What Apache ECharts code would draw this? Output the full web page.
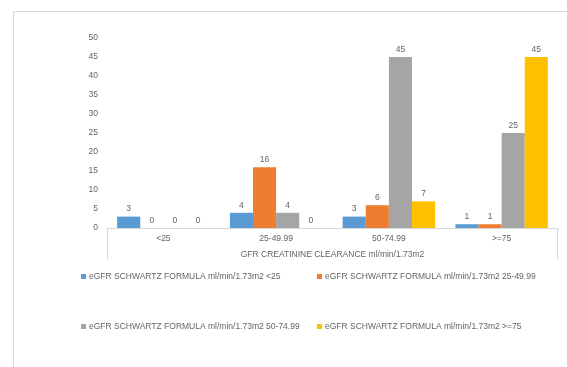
<!DOCTYPE html>
<html>
<head>
<meta charset="utf-8">
<script src="https://cdn.jsdelivr.net/npm/echarts@6/dist/echarts.min.js"></script>
<style>
  html, body { margin: 0; padding: 0; background: #ffffff; }
  #chart { width: 567px; height: 367px; }
</style>
</head>
<body>
<div id="chart"></div>
<script>
// GFR creatinine clearance bands on the category axis
const categories = ['<25', '25-49.99', '50-74.99', '>=75'];

// eGFR Schwartz formula bands, one series each
const seriesNames = [
  'eGFR SCHWARTZ FORMULA ml/min/1.73m2 <25',
  'eGFR SCHWARTZ FORMULA ml/min/1.73m2 25-49.99',
  'eGFR SCHWARTZ FORMULA ml/min/1.73m2 50-74.99',
  'eGFR SCHWARTZ FORMULA ml/min/1.73m2 >=75'
];
const schwartzBelow25 = [3, 4, 3, 1];
const schwartz25to49 = [0, 16, 6, 1];
const schwartz50to74 = [0, 4, 45, 25];
const schwartzAbove75 = [0, 0, 7, 45];

const seriesValues = [schwartzBelow25, schwartz25to49, schwartz50to74, schwartzAbove75];
const seriesColors = ['#5b9bd5', '#ed7d31', '#a5a5a5', '#ffc000'];

const yTicks = { min: 0, max: 50, interval: 5 };

const FONT = '"Liberation Sans", Arial, sans-serif';
const TEXT = '#646464';
const FRAME = '#d9d9d9';

// plot area
const G = { left: 107, right: 9, top: 38, bottom: 139 };
const W = 567, H = 367;
const axisY = H - G.bottom;
const axisX0 = G.left, axisX1 = W - G.right;

const chart = echarts.init(document.getElementById('chart'), null, { renderer: 'canvas' });

const legendPos = [
  { left: 81, top: 272 },
  { left: 317, top: 272 },
  { left: 81, top: 322 },
  { left: 317, top: 322 }
];

chart.setOption({
  backgroundColor: '#ffffff',
  animation: false,
  textStyle: { fontFamily: FONT },
  grid: { left: G.left, right: G.right, top: G.top, bottom: G.bottom, containLabel: false },
  legend: seriesNames.map((n, i) => ({
    data: [n],
    left: legendPos[i].left,
    top: legendPos[i].top,
    orient: 'horizontal',
    icon: 'rect',
    itemWidth: 5,
    itemHeight: 5,
    itemGap: 0,
    padding: 0,
    selectedMode: false,
    textStyle: { color: TEXT, fontSize: 8.5, fontFamily: FONT, padding: [0, 0, 0, -2] }
  })),
  xAxis: {
    type: 'category',
    data: categories,
    name: 'GFR CREATININE CLEARANCE ml/min/1.73m2',
    nameLocation: 'middle',
    nameGap: 22,
    nameTextStyle: { color: TEXT, fontSize: 8.5, fontFamily: FONT },
    axisLine: { show: true, lineStyle: { color: FRAME, width: 1 } },
    axisTick: { show: false },
    axisLabel: { color: TEXT, fontSize: 8.5, margin: 6, fontFamily: FONT },
    splitLine: { show: false }
  },
  yAxis: {
    type: 'value',
    min: yTicks.min,
    max: yTicks.max,
    interval: yTicks.interval,
    axisLine: { show: false },
    axisTick: { show: false },
    splitLine: { show: false },
    axisLabel: { color: TEXT, fontSize: 8.5, margin: 9, fontFamily: FONT }
  },
  series: seriesNames.map((n, i) => ({
    name: n,
    type: 'bar',
    data: seriesValues[i],
    barGap: '0%',
    barCategoryGap: '18%',
    itemStyle: { color: seriesColors[i] },
    label: {
      show: true,
      position: 'top',
      distance: 3,
      color: TEXT,
      fontSize: 8.5,
      fontFamily: FONT
    }
  })),
  graphic: [
    // outer frame (top and left edges)
    { type: 'line', shape: { x1: 13, y1: 11.5, x2: W, y2: 11.5 }, style: { stroke: FRAME, lineWidth: 1 } },
    { type: 'line', shape: { x1: 13.5, y1: 11, x2: 13.5, y2: H }, style: { stroke: FRAME, lineWidth: 1 } },
    // category axis box sides
    { type: 'line', shape: { x1: axisX0 + 0.5, y1: axisY, x2: axisX0 + 0.5, y2: axisY + 32 }, style: { stroke: FRAME, lineWidth: 1 } },
    { type: 'line', shape: { x1: axisX1 - 0.5, y1: axisY, x2: axisX1 - 0.5, y2: axisY + 32 }, style: { stroke: FRAME, lineWidth: 1 } }
  ]
});
</script>
</body>
</html>
